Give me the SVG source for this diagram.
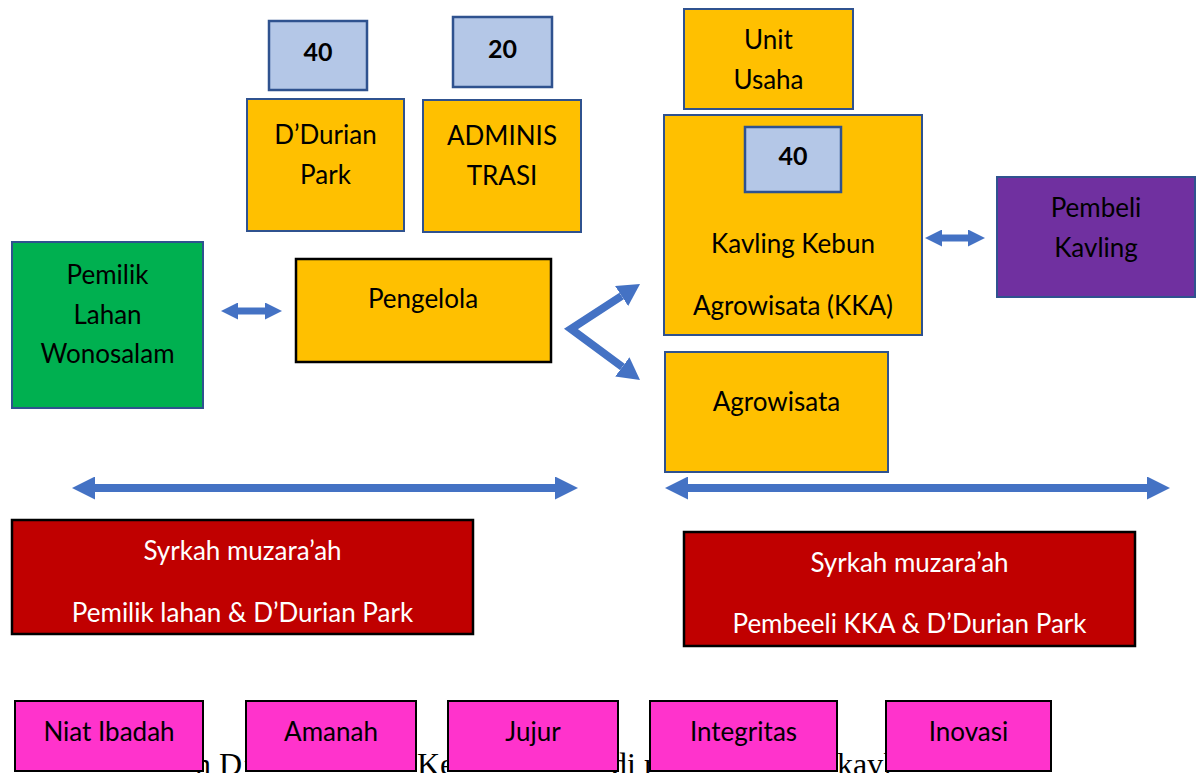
<svg xmlns="http://www.w3.org/2000/svg" width="1202" height="773" viewBox="0 0 1202 773">
<defs>
<style>
.t{font-family:Lato,"Open Sans","Liberation Sans",sans-serif;font-size:26px;text-anchor:middle;fill:#000}
.w{fill:#fff}
.b{font-weight:bold;font-size:25px}
.cap{font-family:"Liberation Serif","Times New Roman",serif;font-size:32px;fill:#000}
.yb{fill:#FFC000;stroke:#2F528F;stroke-width:2}
.lb{fill:#B4C7E7;stroke:#2F528F;stroke-width:2.5}
.blk{stroke:#000;stroke-width:2.5}
.pk{fill:#FF33CC;stroke:#000;stroke-width:2}
.s{fill:none;stroke:#4472C4}
</style>
<marker id="hs" markerUnits="userSpaceOnUse" markerWidth="17" markerHeight="17" refX="0" refY="8.5" orient="auto-start-reverse" viewBox="0 0 17 17"><path d="M0,0 L17,8.5 L0,17 Z" fill="#4472C4"/></marker>
<marker id="hl" markerUnits="userSpaceOnUse" markerWidth="23" markerHeight="23" refX="0" refY="11.5" orient="auto-start-reverse" viewBox="0 0 23 23"><path d="M0,0 L23,11.5 L0,23 Z" fill="#4472C4"/></marker>
<marker id="hb" markerUnits="userSpaceOnUse" markerWidth="22" markerHeight="24" refX="0" refY="12" orient="auto-start-reverse" viewBox="0 0 22 24"><path d="M0,0 L22,12 L0,24 Z" fill="#4472C4"/></marker>
</defs>
<rect width="1202" height="773" fill="#fff"/>

<g id="caption">
<text class="cap" x="195" y="775">n D’</text>
<text class="cap" x="417" y="775">Ke</text>
<text class="cap" x="611" y="775">di r</text>
<text class="cap" x="837" y="775">kavl</text>
</g>

<g id="connectors">
<line class="s" x1="238" y1="311" x2="265" y2="311" stroke-width="7" marker-start="url(#hs)" marker-end="url(#hs)"/>
<line class="s" x1="942" y1="238" x2="968" y2="238" stroke-width="7" marker-start="url(#hs)" marker-end="url(#hs)"/>
<line class="s" x1="95" y1="488" x2="555" y2="488" stroke-width="8" marker-start="url(#hl)" marker-end="url(#hl)"/>
<line class="s" x1="688" y1="488" x2="1147" y2="488" stroke-width="8" marker-start="url(#hl)" marker-end="url(#hl)"/>
<polyline class="s" points="621.6,296 571,329 622.3,366.9" stroke-width="8" stroke-linejoin="miter" marker-start="url(#hb)" marker-end="url(#hb)"/>
</g>

<g id="pemilik-lahan">
<rect x="12" y="242" width="191" height="166" fill="#00B050" stroke="#2F528F" stroke-width="2"/>
<text class="t" x="107.5" y="284">Pemilik</text>
<text class="t" x="107.5" y="324">Lahan</text>
<text class="t" x="107.5" y="363">Wonosalam</text>
</g>

<g id="pengelola">
<rect x="296" y="259" width="255" height="103" fill="#FFC000" class="blk"/>
<text class="t" x="423" y="308">Pengelola</text>
</g>

<g id="durian-40">
<rect class="lb" x="269" y="21" width="98" height="69"/>
<text class="t b" x="318" y="61">40</text>
</g>
<g id="durian-park">
<rect class="yb" x="247" y="99" width="157" height="132"/>
<text class="t" x="325.5" y="144">D’Durian</text>
<text class="t" x="325.5" y="184">Park</text>
</g>

<g id="admin-20">
<rect class="lb" x="453" y="17" width="99" height="70"/>
<text class="t b" x="502.5" y="58">20</text>
</g>
<g id="administrasi">
<rect class="yb" x="423" y="100" width="158" height="132"/>
<text class="t" x="502" y="145">ADMINIS</text>
<text class="t" x="502" y="185">TRASI</text>
</g>

<g id="unit-usaha">
<rect class="yb" x="684" y="9" width="169" height="100"/>
<text class="t" x="768.5" y="49">Unit</text>
<text class="t" x="768.5" y="89">Usaha</text>
</g>

<g id="kka">
<rect class="yb" x="664" y="115" width="258" height="220"/>
<rect class="lb" x="745" y="127" width="96" height="65"/>
<text class="t b" x="793" y="165">40</text>
<text class="t" x="793" y="253">Kavling Kebun</text>
<text class="t" x="793" y="315">Agrowisata (KKA)</text>
</g>

<g id="pembeli-kavling">
<rect x="997" y="177" width="198" height="120" fill="#7030A0" stroke="#2F528F" stroke-width="2"/>
<text class="t" x="1096" y="217">Pembeli</text>
<text class="t" x="1096" y="257">Kavling</text>
</g>

<g id="agrowisata">
<rect class="yb" x="665" y="352" width="223" height="120"/>
<text class="t" x="776.5" y="411">Agrowisata</text>
</g>

<g id="syrkah-1">
<rect x="12" y="520" width="461" height="114" fill="#C00000" class="blk"/>
<text class="t w" x="242.5" y="560">Syrkah muzara’ah</text>
<text class="t w" x="242.5" y="622">Pemilik lahan &amp; D’Durian Park</text>
</g>

<g id="syrkah-2">
<rect x="684" y="532" width="451" height="114" fill="#C00000" class="blk"/>
<text class="t w" x="909.5" y="572">Syrkah muzara’ah</text>
<text class="t w" x="909.5" y="633">Pembeeli KKA &amp; D’Durian Park</text>
</g>

<g id="niat-ibadah"><rect class="pk" x="15" y="701" width="188" height="70"/><text class="t" x="109" y="741">Niat Ibadah</text></g>
<g id="amanah"><rect class="pk" x="246" y="701" width="170" height="70"/><text class="t" x="331" y="741">Amanah</text></g>
<g id="jujur"><rect class="pk" x="448" y="701" width="170" height="70"/><text class="t" x="533" y="741">Jujur</text></g>
<g id="integritas"><rect class="pk" x="650" y="701" width="187" height="70"/><text class="t" x="743.5" y="741">Integritas</text></g>
<g id="inovasi"><rect class="pk" x="886" y="701" width="165" height="70"/><text class="t" x="968.5" y="741">Inovasi</text></g>
</svg>
